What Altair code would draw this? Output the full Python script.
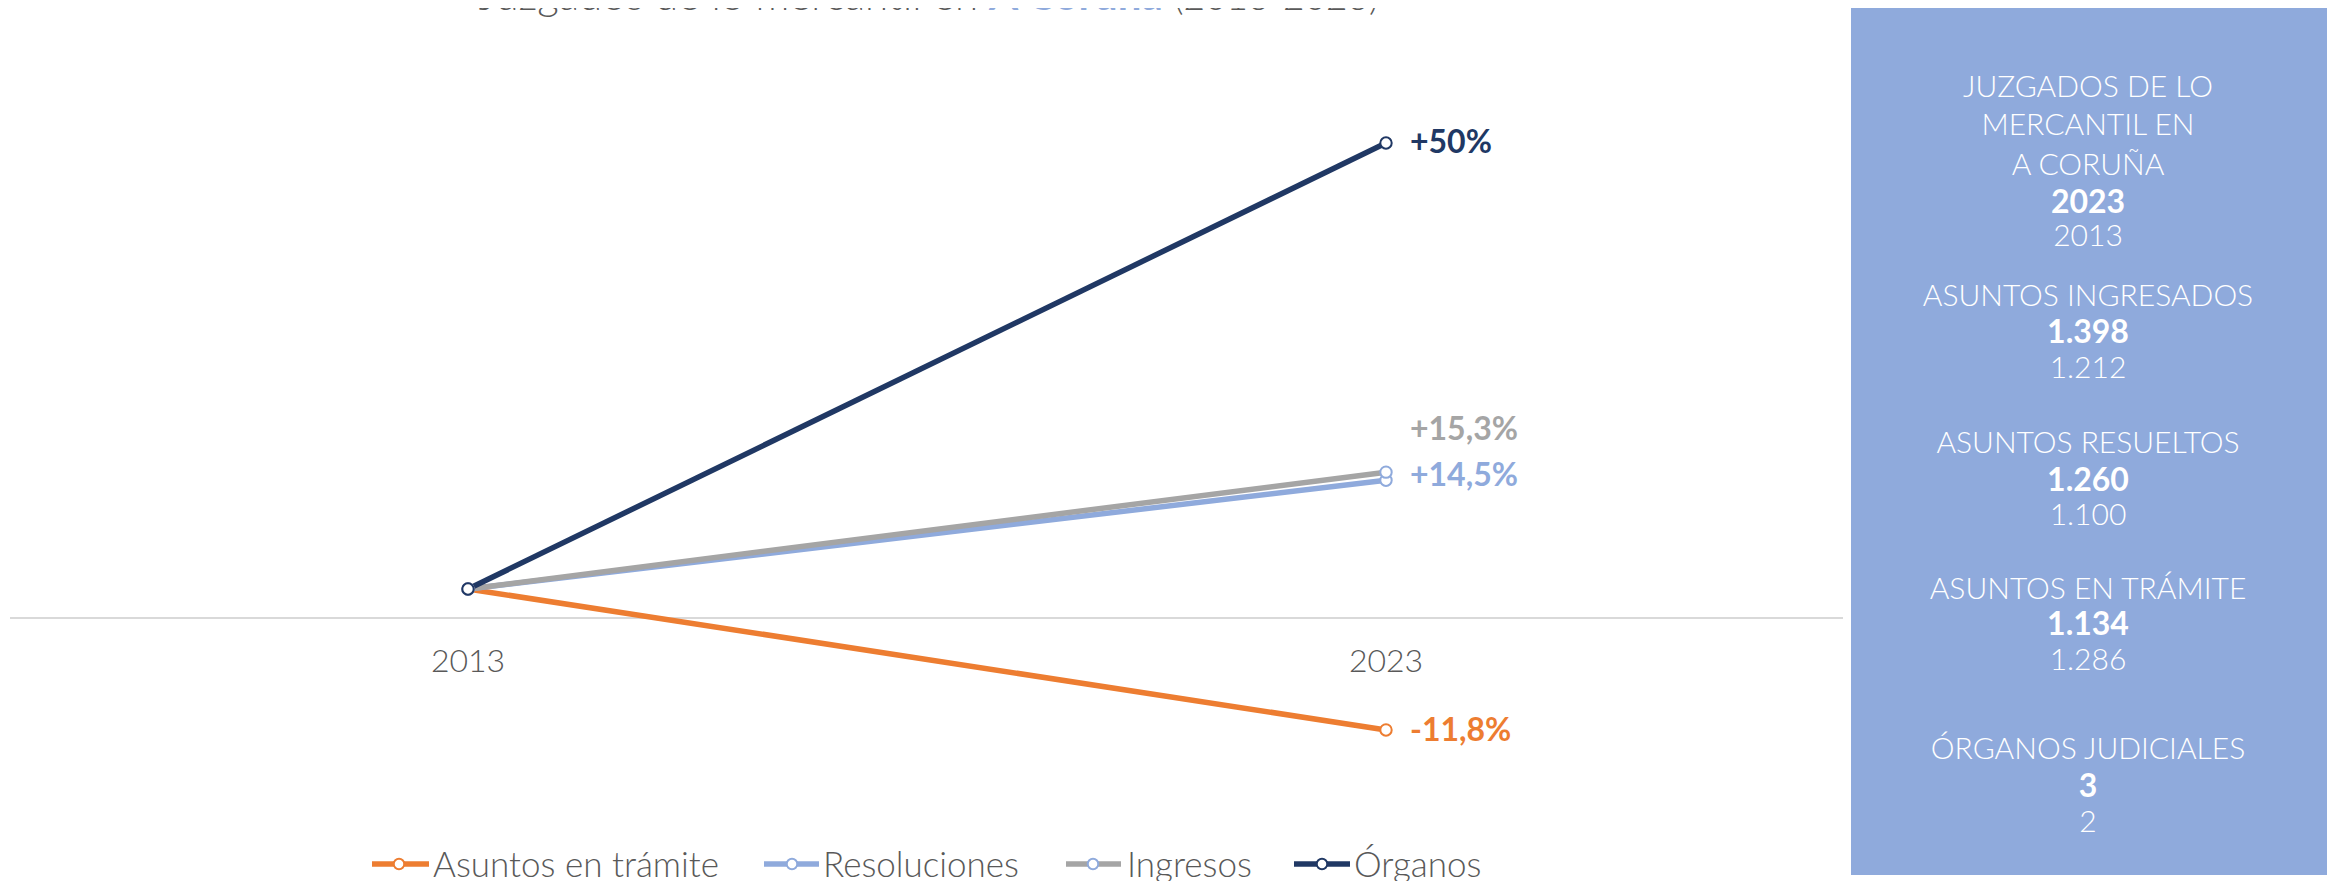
import altair as alt
import pandas as pd

# ---------------- data ----------------
anios = [2013, 2023]
series = ["Asuntos en trámite", "Resoluciones", "Ingresos", "Órganos"]
valores_2013 = [0.0, 0.0, 0.0, 0.0]          # common starting point (chart units)
valores_2023 = [-15.8, 12.2, 13.1, 50.0]     # chart units
etiquetas = ["-11,8%", "+14,5%", "+15,3%", "+50%"]

colores_linea = ["#ED7D31", "#8FAADC", "#A5A5A5", "#203864"]
colores_marcador = ["#ED7D31", "#8FAADC", "#8FAADC", "#203864"]

titulo_partes = ["Juzgados de lo mercantil en ", "A Coruña", " (2013-2023)"]

panel_titulo = ["JUZGADOS DE LO", "MERCANTIL EN", "A CORUÑA"]
panel_anios = ["2023", "2013"]
panel_categorias = ["ASUNTOS INGRESADOS", "ASUNTOS RESUELTOS", "ASUNTOS EN TRÁMITE", "ÓRGANOS JUDICIALES"]
panel_2023 = [1398, 1260, 1134, 3]
panel_2013 = [1212, 1100, 1286, 2]

# ---------------- layout / style ----------------
W, H = 2319, 873
FONT = "Lato"
GRIS = "#595959"
PANEL = "#8FAADC"

label_dy = [1, -4, -42, 0]
legend_pos = [(364, 421, 391, 425), (756, 811, 784, 815), (1058, 1113, 1085, 1119), (1286, 1342, 1314, 1346)]
legend_y = 856
title_pos = [(970, "right", 42), (981, "left", 42), (1166, "left", 37)]
panel_y = [80, 118, 158, 195, 229, 289, 325, 361, 436, 473, 508, 582, 617, 653, 742, 779, 815]

rows = []
for s, v0, v1 in zip(series, valores_2013, valores_2023):
    rows.append({"serie": s, "anio": anios[0], "valor": v0})
    rows.append({"serie": s, "anio": anios[1], "valor": v1})
df = pd.DataFrame(rows)

xs = alt.Scale(domain=[2013, 2023], range=[460, 1378], nice=False, zero=False)
ys = alt.Scale(domain=[0, 50], range=[581, 135], nice=False, zero=False)
X = alt.X("anio:Q", scale=xs, axis=None)
Y = alt.Y("valor:Q", scale=ys, axis=None)


def one():
    return alt.Chart(alt.Data(values=[{"k": 0}]))


layers = []

# right panel background
layers.append(one().mark_rect(color=PANEL).encode(
    x=alt.value(1843), x2=alt.value(2319), y=alt.value(0), y2=alt.value(867)))

# horizontal axis line
layers.append(one().mark_rule(color="#D9D9D9", strokeWidth=2).encode(
    x=alt.value(2), x2=alt.value(1835), y=alt.value(610)))

# year labels
layers.append(alt.Chart(pd.DataFrame({"anio": anios})).mark_text(
    font=FONT, fontSize=32, fontWeight=300, color=GRIS, baseline="middle", align="center"
).encode(x=X, y=alt.value(654), text=alt.Text("anio:N")))

# lines
for s, c in zip(series, colores_linea):
    layers.append(alt.Chart(df[df.serie == s]).mark_line(color=c, strokeWidth=5.5).encode(x=X, y=Y))

# markers
layers.append(alt.Chart(df).mark_point(
    filled=False, fill="white", fillOpacity=1, opacity=1, size=130, strokeWidth=2
).encode(x=X, y=Y, stroke=alt.Stroke("serie:N", scale=alt.Scale(domain=series, range=colores_marcador), legend=None)))

# end labels
df_lab = df[df.anio == anios[1]].copy()
df_lab["etiqueta"] = etiquetas
for s, c, dy in zip(series, colores_linea, label_dy):
    layers.append(alt.Chart(df_lab[df_lab.serie == s]).mark_text(
        font=FONT, fontSize=32, fontWeight="bold", color=c, align="left", baseline="middle", dx=24, dy=dy
    ).encode(x=X, y=Y, text="etiqueta:N"))

# title (partly cut at the top, as in the reference)
for (tx, al, fs), part in zip(title_pos, titulo_partes):
    bold = part.strip() == "A Coruña"
    layers.append(one().mark_text(
        font=FONT, fontSize=fs, fontWeight="bold" if bold else 300,
        color=PANEL if bold else GRIS, align=al, baseline="alphabetic"
    ).encode(x=alt.value(tx), y=alt.value(2), text=alt.value(part)))

# legend
for s, c, m, (x0, x1, cx, tx) in zip(series, colores_linea, colores_marcador, legend_pos):
    layers.append(one().mark_rule(color=c, strokeWidth=5.5).encode(
        x=alt.value(x0), x2=alt.value(x1), y=alt.value(legend_y)))
    layers.append(one().mark_point(filled=False, fill="white", fillOpacity=1, opacity=1,
                                   stroke=m, strokeWidth=2, size=110).encode(
        x=alt.value(cx), y=alt.value(legend_y)))
    layers.append(one().mark_text(font=FONT, fontSize=35, fontWeight=300, color=GRIS,
                                  align="left", baseline="middle").encode(
        x=alt.value(tx), y=alt.value(legend_y + 2), text=alt.value(s)))

# panel texts
fmt = lambda v: f"{v:,}".replace(",", ".")
panel_lines = [(t, False) for t in panel_titulo]
panel_lines += [(panel_anios[0], True), (panel_anios[1], False)]
for cat, a, b in zip(panel_categorias, panel_2023, panel_2013):
    panel_lines += [(cat, False), (fmt(a), True), (fmt(b), False)]
for (txt, bold), py in zip(panel_lines, panel_y):
    layers.append(one().mark_text(
        font=FONT, fontSize=32 if bold else 30, fontWeight="bold" if bold else 300,
        color="white", align="center", baseline="middle"
    ).encode(x=alt.value(2080), y=alt.value(py), text=alt.value(txt)))

chart = alt.layer(*layers).properties(
    width=W, height=H, padding=0, background="white",
    autosize=alt.AutoSizeParams(type="none"),
).configure_view(strokeWidth=0)

chart.save("out.html", embed_options={"renderer": "svg", "actions": False})
